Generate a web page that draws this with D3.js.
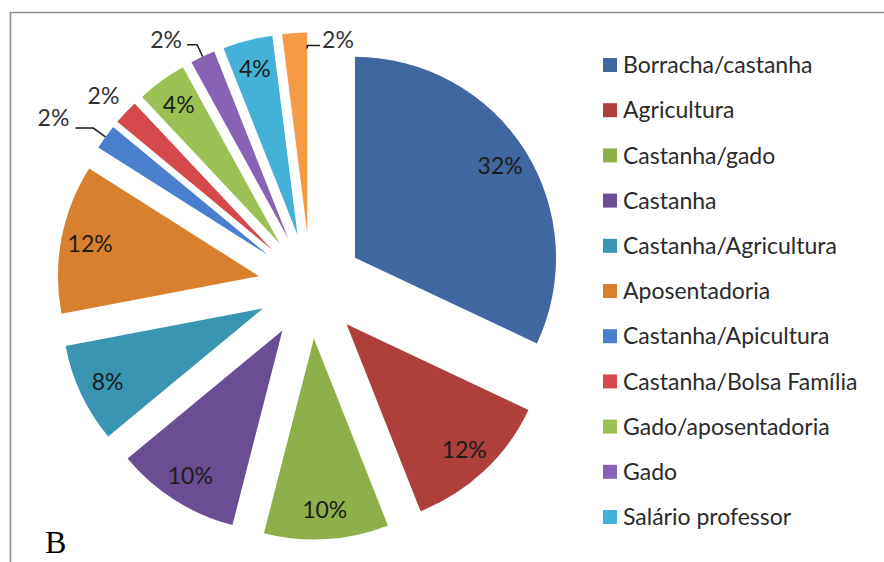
<!DOCTYPE html>
<html>
<head>
<meta charset="utf-8">
<script src="https://cdn.jsdelivr.net/npm/d3@7"></script>
<style>
  html, body { margin: 0; padding: 0; background: #ffffff; }
  svg { display: block; }
</style>
</head>
<body>
<svg id="chart" width="884" height="562"></svg>
<script>
// Fontes de renda — percentual de entrevistados
const categories = [
  "Borracha/castanha", "Agricultura", "Castanha/gado", "Castanha",
  "Castanha/Agricultura", "Aposentadoria", "Castanha/Apicultura",
  "Castanha/Bolsa Família", "Gado/aposentadoria", "Gado",
  "Salário professor", "Outros"
];
const percents = [32, 12, 10, 10, 8, 12, 2, 2, 4, 2, 4, 2];
const palette = [
  "#40679f", "#ae3f3b", "#8db04a", "#6b4d94", "#3a95b2", "#d9802e",
  "#4a7fcd", "#d5484b", "#9bc053", "#8762b5", "#44b2d6", "#f59b45"
];
const panelLetter = "B";

const rows = categories.map((name, i) => ({ name, value: percents[i], color: palette[i] }));

const W = 884, H = 562;
const svg = d3.select("#chart");

// frame (top and left edges of the chart area)
svg.append("path")
  .attr("d", `M10.5,${H} V12.5 H${W}`)
  .attr("fill", "none")
  .attr("stroke", "#8e8e8e")
  .attr("stroke-width", 1.6);

// pie geometry
const cx = 310.6, cy = 286, R = 201, explode = 52.6;
const labelFont = "Lato, 'Open Sans', sans-serif";

const pie = d3.pie().sort(null).value(d => d.value)
  .startAngle(0).endAngle(2 * Math.PI);
const arcGen = d3.arc().innerRadius(0).outerRadius(R);
const polar = (a, d) => [Math.sin(a) * d, -Math.cos(a) * d];
const rad = deg => deg * Math.PI / 180;

const slices = pie(rows);

// slices that carry their label outside, with leader settings
const outside = {
  6:  { dAngle: -3.3, dist: 255, leader: { t: 0.5, r0: R, r1: R + 15, dx: 22 } },
  7:  { dAngle: -0.7, dist: 229, leader: null },
  9:  { dAngle: -6.4, dist: 233, leader: { t: 0.5, r0: R, r1: R + 13, dx: 21 } },
  11: { dAngle: 12.6, dist: 196, leader: { t: 1.0, r0: 185, r1: 188, dx: -18 } }
};

const g = svg.append("g").attr("transform", `translate(${cx},${cy})`);

const sg = g.selectAll("g.slice")
  .data(slices)
  .join("g")
  .attr("class", "slice")
  .attr("transform", d => {
    const mid = (d.startAngle + d.endAngle) / 2;
    const [ox, oy] = polar(mid, explode);
    return `translate(${ox},${oy})`;
  });

sg.append("path")
  .attr("d", arcGen)
  .attr("fill", d => d.data.color);

// labels
sg.each(function (d, i) {
  const sel = d3.select(this);
  const mid = (d.startAngle + d.endAngle) / 2;
  const spec = outside[i];
  let lx, ly;
  if (spec) {
    [lx, ly] = polar(mid + rad(spec.dAngle), spec.dist);
    if (spec.leader) {
      const L = spec.leader;
      const a = d.startAngle + (d.endAngle - d.startAngle) * L.t;
      const p0 = polar(a, L.r0);
      const p1 = polar(a, L.r1);
      const p2 = [lx + L.dx, p1[1]];
      sel.append("path")
        .attr("d", d3.line()([p0, p1, p2]))
        .attr("fill", "none")
        .attr("stroke", "#1a1a1a")
        .attr("stroke-width", 1.5);
    }
  } else {
    [lx, ly] = polar(mid, 0.855 * R);
  }
  sel.append("text")
    .attr("x", lx)
    .attr("y", ly)
    .attr("dy", "0.36em")
    .attr("text-anchor", "middle")
    .attr("font-family", labelFont)
    .attr("font-size", 23)
    .attr("fill", spec ? "#333333" : "#1c1c1c")
    .text(`${d.data.value}%`);
});

// legend: only entries that fit in the chart height are shown
const legendX = 603, legendY0 = 65, legendStep = 45.2, sw = 14;
const legendRows = rows
  .map((d, i) => ({ ...d, y: legendY0 + i * legendStep }))
  .filter(d => d.y + 14 < H);

const lg = svg.append("g").selectAll("g")
  .data(legendRows)
  .join("g")
  .attr("transform", d => `translate(${legendX},${d.y})`);

lg.append("rect")
  .attr("x", 0).attr("y", -sw / 2)
  .attr("width", sw).attr("height", sw)
  .attr("fill", d => d.color);

lg.append("text")
  .attr("x", 20)
  .attr("dy", "0.36em")
  .attr("font-family", labelFont)
  .attr("font-size", 23)
  .attr("fill", "#2b2b2b")
  .text(d => d.name);

// panel letter
svg.append("text")
  .attr("x", 45)
  .attr("y", 553)
  .attr("font-family", "'Liberation Serif', 'DejaVu Serif', serif")
  .attr("font-size", 32)
  .attr("fill", "#000")
  .text(panelLetter);
</script>
</body>
</html>
